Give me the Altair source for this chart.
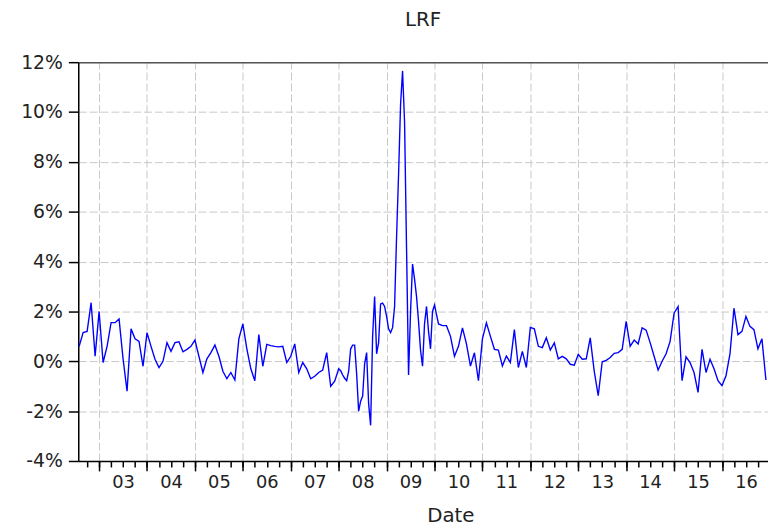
import altair as alt
import pandas as pd

# LRF (%), monthly Aug 2002 - Dec 2007
lrf_2002_2007 = [
    0.6, 1.15, 1.2, 2.35, 0.2,
    2.0, -0.05, 0.6, 1.55, 1.55, 1.7, 0.1, -1.2, 1.3, 0.9, 0.8, -0.2,
    1.15, 0.6, 0.08, -0.25, 0.0, 0.75, 0.4, 0.75, 0.78, 0.38, 0.48, 0.6,
    0.85, 0.2, -0.45, 0.1, 0.35, 0.65, 0.2, -0.4, -0.7, -0.45, -0.75, 0.9,
    1.5, 0.5, -0.3, -0.78, 1.07, -0.2, 0.68, 0.63, 0.6, 0.58, 0.6, -0.05,
    0.2, 0.7, -0.45, -0.05, -0.3, -0.7, -0.6, -0.45, -0.35, 0.35, -1.0, -0.8,
]
# LRF (%), half-monthly Jan 2008 - Dec 2009
lrf_2008_2009 = [
    -0.3, -0.38, -0.55, -0.68, -0.78, -0.4, 0.5, 0.65, 0.65, -0.5, -2.0, -1.6,
    -1.4, -0.1, 0.35, -1.7, -2.57, 1.0, 2.6, 0.3, 0.75, 2.3, 2.33, 2.2,
    1.8, 1.3, 1.15, 1.35, 2.2, 5.0, 7.5, 10.3, 11.65, 9.6, 4.5, -0.55,
    2.0, 3.9, 3.3, 2.6, 1.6, 0.45, -0.2, 1.5, 2.2, 1.2, 0.5, 2.0,
]
# LRF (%), monthly Jan 2010 - Dec 2016
lrf_2010_2016 = [
    2.26, 1.5, 1.43, 1.43, 1.0, 0.2, 0.6, 1.34, 0.7, -0.19, 0.34, -0.78,
    0.9, 1.54, 1.0, 0.48, 0.45, -0.19, 0.21, -0.05, 1.27, -0.25, 0.4, -0.25,
    1.36, 1.3, 0.6, 0.55, 0.94, 0.45, 0.74, 0.1, 0.2, 0.1, -0.12, -0.16,
    0.28, 0.08, 0.1, 0.94, -0.4, -1.38, -0.02, 0.04, 0.15, 0.32, 0.35, 0.48,
    1.6, 0.6, 0.85, 0.7, 1.34, 1.25, 0.75, 0.2, -0.35, 0.0, 0.3, 0.8,
    1.93, 2.2, -0.78, 0.18, -0.05, -0.45, -1.25, 0.48, -0.45, 0.08, -0.3, -0.78,
    -0.98, -0.58, 0.3, 2.13, 1.07, 1.2, 1.8, 1.4, 1.27, 0.5, 0.9, -0.75,
]

year_ticks = list(range(2003, 2017))
quarter_ticks = [2002.75] + [y + q / 4 for y in range(2003, 2017) for q in range(4)]
y_ticks = list(range(-4, 13, 2))

t = ([2002 + 7 / 12 + k / 12 for k in range(len(lrf_2002_2007))]
     + [2008 + j / 24 for j in range(len(lrf_2008_2009))]
     + [2010 + i / 12 for i in range(len(lrf_2010_2016))])
v = lrf_2002_2007 + lrf_2008_2009 + lrf_2010_2016
df = pd.DataFrame({"t": t, "v": v})

FONT = "DejaVu Sans"
TXT = "#222222"
x_scale = alt.Scale(domain=[2002.565, 2016.96], nice=False, zero=False)

y_enc = alt.Y(
    "v:Q",
    scale=alt.Scale(domain=[-4, 12], nice=False, zero=False),
    axis=alt.Axis(
        values=y_ticks, labelExpr="datum.value + '%'", title=None,
        tickSize=10, tickColor="black", tickWidth=1.5, labelPadding=6,
        domainColor="black", domainWidth=1.5,
        grid=True, gridDash=[8, 3], gridColor="#c8c8c8", gridWidth=1,
        labelFont=FONT, labelFontSize=19, labelColor=TXT,
    ),
)

base = alt.Chart(df)

grid_layer = base.mark_line(opacity=0).encode(
    x=alt.X("t:Q", scale=x_scale, axis=alt.Axis(
        orient="top", values=year_ticks, grid=True, gridDash=[8, 3],
        gridColor="#c8c8c8", gridWidth=1, ticks=False, labels=False,
        domain=True, domainColor="#555555", domainWidth=1.5, title=None)),
    y=y_enc,
)

major_layer = base.mark_line(opacity=0).encode(
    x=alt.X("t:Q", scale=x_scale, axis=alt.Axis(
        orient="bottom", values=year_ticks, grid=False, tickSize=10,
        tickColor="black", tickWidth=1.5, labels=False, domain=False,
        title=None)),
    y=y_enc,
)

line_layer = base.mark_line(color="#0000ff", strokeWidth=1.4, clip=True).encode(
    x=alt.X("t:Q", scale=x_scale, axis=alt.Axis(
        orient="bottom", values=quarter_ticks, grid=False, tickSize=6,
        tickColor="black", tickWidth=1.5, domain=True, domainColor="black",
        domainWidth=1.5,
        labelExpr="(datum.value % 1 == 0.5) ? format(floor(datum.value) % 100, '02d') : ''",
        labelFont=FONT, labelFontSize=18, labelColor=TXT, labelPadding=7,
        labelOverlap=False,
        title="Date", titleFont=FONT, titleFontSize=20, titleFontWeight="normal",
        titleColor=TXT, titleX=376, titleY=61, titleBaseline="alphabetic",
        titleAlign="center")),
    y=y_enc,
    order="t:Q",
)

chart = (
    alt.layer(grid_layer, major_layer, line_layer)
    .resolve_scale(x="shared", y="shared")
    .resolve_axis(x="independent", y="shared")
    .properties(
        width=697, height=403,
        title=alt.TitleParams("LRF", font=FONT, fontSize=20, fontWeight="normal",
                              color=TXT, anchor="middle", offset=8,
                              baseline="alphabetic"),
        padding={"left": 71, "top": 52, "right": 0, "bottom": 68},
        autosize=alt.AutoSizeParams(type="none"),
    )
    .configure_view(stroke=None)
    .configure(background="white")
)

chart.save("out.html", embed_options={"renderer": "svg", "actions": False})
